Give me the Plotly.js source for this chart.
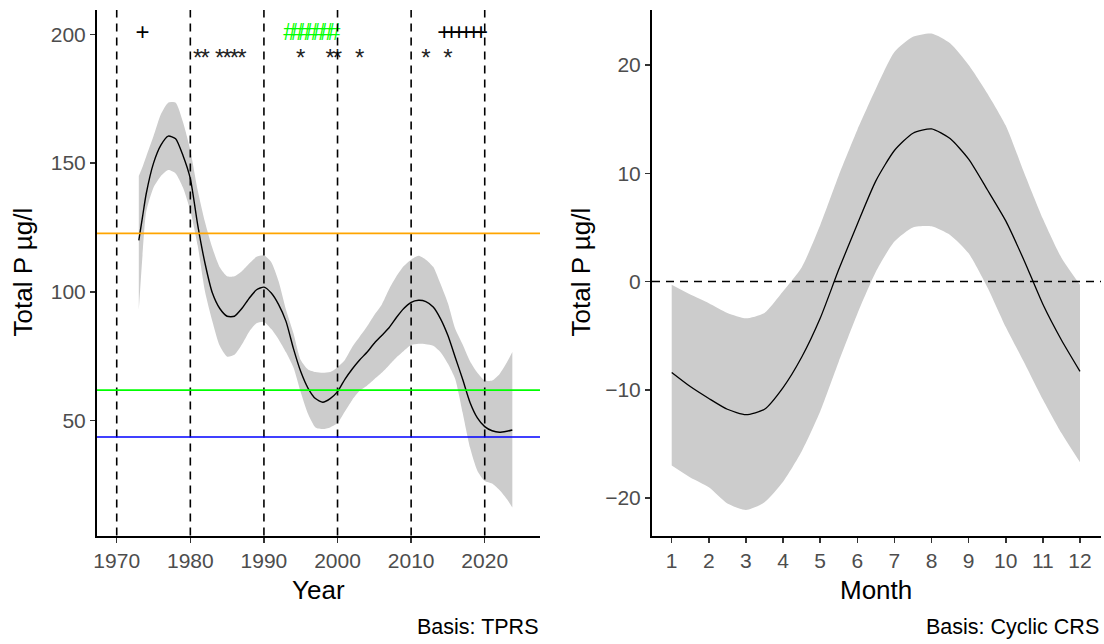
<!DOCTYPE html>
<html>
<head>
<meta charset="utf-8">
<script src="https://cdn.plot.ly/plotly-3.0.1.min.js"></script>
<style>
  html, body { margin: 0; padding: 0; background: #ffffff; }
  #chart { width: 1104px; height: 644px; }
</style>
</head>
<body>
<div id="chart"></div>
<script>
// ---- Long-term trend (Year) ----
const years = [1973, 1973.5, 1974, 1975, 1976, 1977, 1978, 1979, 1980, 1981, 1982, 1983, 1984, 1985, 1986,
  1987, 1988, 1989, 1990, 1991, 1992, 1993, 1994, 1995, 1996, 1997, 1998, 1999, 2000, 2001, 2002,
  2003, 2004, 2005, 2006, 2007, 2008, 2009, 2010, 2011, 2012, 2013, 2014, 2015, 2016, 2017, 2018,
  2019, 2020, 2021, 2022, 2023, 2023.75];
const trendFit = [120, 129, 138, 150, 157, 160.5, 159.5, 153, 144, 126, 111, 99.5, 93.5, 90.5, 90.5,
  93.5, 97.5, 100.8, 101.8, 99.5, 95, 88.5, 78, 69, 62.5, 58.5, 57.1, 58.5, 61.2, 66, 70,
  73.5, 76.5, 80, 83, 86, 90, 93.5, 95.9, 96.7, 96.2, 94.1, 89.5, 83, 74.5, 66, 57,
  51, 47.6, 46, 45.4, 45.8, 46.3];
const trendUpper = [145, 148.5, 152.5, 160.5, 169, 173.5, 173.5, 166, 155, 139.5, 127, 117, 109.5, 106, 106,
  108, 111, 113.6, 114.2, 111.5, 104, 93, 84, 73.5, 69.8, 68.8, 68.5, 68.8, 70.7, 73.5, 78.5,
  82.5, 86.5, 91, 95, 101, 106, 110, 112.5, 114, 112.5, 109.7, 103, 95.5, 85.5, 79.5, 73,
  68.5, 65.5, 65.5, 68, 72.5, 76.6];
const trendLower = [93, 114, 131, 140.5, 145, 147.3, 146, 140.5, 131.5, 118, 100, 88.5, 79, 74.8, 75.5,
  79.5, 84.5, 87.8, 88.3, 85.5, 81.5, 76.5, 70.7, 61, 52.5, 47.3, 46.7, 47.3, 49, 53.5, 58,
  61.5, 63.5, 66, 68.5, 71.5, 74.5, 77, 79.3, 79.8, 79.6, 79, 76.5, 72, 66, 53, 39.5,
  30.5, 26.5, 25.5, 23, 19.5, 16.2];

// reference levels (µg/l)
const levelValues = [122.7, 61.8, 43.6];
const levelColors = ['#FFA500', '#00FF00', '#0000FF'];
// decade guides
const decadeYears = [1970, 1980, 1990, 2000, 2010, 2020];

// significance flags along the top
const plusYears = [1973.5, 2014.5, 2015.5, 2016.5, 2017.5, 2018.5, 2019.5];
const hashYears = [1993.5, 1994.5, 1995.5, 1996.5, 1997.5, 1998.5, 1999.5];
const starYears = [1981, 1982, 1984, 1985, 1986, 1987, 1995, 1999, 2000, 2003, 2012, 2015];
const flagLevel = 200;
const starLevel = 190;

// ---- Seasonal cycle (Month) ----
const months = [1, 1.5, 2, 2.5, 3, 3.5, 4, 4.5, 5, 5.5, 6, 6.5, 7, 7.5, 8, 8.5, 9, 9.5, 10, 10.5, 11, 11.5, 12];
const seasonFit = [-8.4, -9.7, -10.8, -11.8, -12.3, -11.8, -9.8, -7.0, -3.4, 1.1, 5.3, 9.3, 12.1, 13.7, 14.1,
  13.2, 11.3, 8.5, 5.6, 1.9, -2.1, -5.4, -8.3];
const seasonUpper = [-0.3, -1.2, -2.0, -2.9, -3.4, -2.9, -0.9, 1.3, 5.2, 9.8, 14.0, 17.8, 21.2, 22.6, 22.9,
  22.0, 20.0, 17.4, 14.4, 10.0, 5.8, 2.2, -0.3];
const seasonLower = [-17.0, -18.1, -19.0, -20.5, -21.1, -20.4, -18.5, -15.7, -12.0, -7.4, -3.0, 0.9, 3.7, 5.0, 5.1,
  4.3, 2.6, -0.5, -4.2, -7.5, -10.9, -14.0, -16.7];

const monthTicks = [1, 2, 3, 4, 5, 6, 7, 8, 9, 10, 11, 12];

const FONT = 'Liberation Sans, Arial, sans-serif';
const BAND = '#CCCCCC';

function band(x, lo, hi, xa, ya) {
  return [
    { x: x, y: lo, xaxis: xa, yaxis: ya, mode: 'lines', line: { width: 0, shape: 'spline', smoothing: 0.6 },
      hoverinfo: 'skip', showlegend: false },
    { x: x, y: hi, xaxis: xa, yaxis: ya, mode: 'lines', line: { width: 0, shape: 'spline', smoothing: 0.6 },
      fill: 'tonexty', fillcolor: BAND, hoverinfo: 'skip', showlegend: false }
  ];
}

function flags(xs, level, symbol, color, size) {
  return {
    x: xs, y: xs.map(() => level), xaxis: 'x', yaxis: 'y', mode: 'text',
    text: xs.map(() => symbol), textposition: 'middle center',
    textfont: { family: FONT, size: size, color: color }, hoverinfo: 'skip', showlegend: false
  };
}

const traces = [
  ...band(years, trendLower, trendUpper, 'x', 'y'),
  { x: years, y: trendFit, xaxis: 'x', yaxis: 'y', mode: 'lines',
    line: { color: '#000000', width: 1.4, shape: 'spline', smoothing: 0.6 }, showlegend: false },
  flags(plusYears, flagLevel, '+', '#000000', 24),
  flags(hashYears, flagLevel, '#', '#00FF00', 23),
  flags(starYears, starLevel, '*', '#222222', 24),
  ...band(months, seasonLower, seasonUpper, 'x2', 'y2'),
  { x: months, y: seasonFit, xaxis: 'x2', yaxis: 'y2', mode: 'lines',
    line: { color: '#000000', width: 1.3, shape: 'spline', smoothing: 0.6 }, showlegend: false }
];

const shapes = [];
decadeYears.forEach(yr => shapes.push({
  type: 'line', xref: 'x', yref: 'y domain', x0: yr, x1: yr, y0: 0, y1: 1, layer: 'above',
  line: { color: '#000000', width: 1.6, dash: '8px,6px' }
}));
levelValues.forEach((v, i) => shapes.push({
  type: 'line', xref: 'x domain', yref: 'y', x0: 0, x1: 1, y0: v, y1: v, layer: 'above',
  line: { color: levelColors[i], width: 1.6 }
}));
shapes.push({
  type: 'line', xref: 'x2 domain', yref: 'y2', x0: 0, x1: 1, y0: 0, y1: 0, layer: 'above',
  line: { color: '#000000', width: 1.6, dash: '8px,6px' }
});

const axisCommon = {
  showgrid: false, zeroline: false, showline: true, linecolor: '#000000', linewidth: 2,
  ticks: 'outside', ticklen: 5, tickwidth: 1.5, tickcolor: '#333333',
  tickfont: { family: FONT, size: 21, color: '#4D4D4D' }
};
const yDomain = [1 - 535.5 / 644, 1 - 10 / 644];

const layout = {
  width: 1104, height: 644,
  margin: { l: 0, r: 0, t: 0, b: 0 },
  paper_bgcolor: '#ffffff', plot_bgcolor: '#ffffff',
  showlegend: false,
  xaxis: Object.assign({}, axisCommon, {
    domain: [97 / 1104, 540 / 1104], range: [1967.32, 2027.51],
    tickvals: decadeYears, ticktext: decadeYears.map(String), anchor: 'y'
  }),
  yaxis: Object.assign({}, axisCommon, {
    domain: yDomain, range: [5.3, 209.5], tickvals: [50, 100, 150, 200], anchor: 'x'
  }),
  xaxis2: Object.assign({}, axisCommon, {
    domain: [652 / 1104, 1101 / 1104], range: [0.469, 12.566],
    tickvals: monthTicks, ticktext: monthTicks.map(String), anchor: 'y2'
  }),
  yaxis2: Object.assign({}, axisCommon, {
    domain: yDomain, range: [-23.46, 25.08], tickvals: [-20, -10, 0, 10, 20], anchor: 'x2'
  }),
  shapes: shapes,
  annotations: [
    { text: 'Year', xref: 'paper', yref: 'paper', x: 318.5 / 1104, y: 1 - 590 / 644,
      xanchor: 'center', yanchor: 'middle', showarrow: false, font: { family: FONT, size: 26, color: '#000000' } },
    { text: 'Month', xref: 'paper', yref: 'paper', x: 876.5 / 1104, y: 1 - 590 / 644,
      xanchor: 'center', yanchor: 'middle', showarrow: false, font: { family: FONT, size: 26, color: '#000000' } },
    { text: 'Total P µg/l', xref: 'paper', yref: 'paper', x: 22 / 1104, y: 1 - 272.5 / 644, textangle: -90,
      xanchor: 'center', yanchor: 'middle', showarrow: false, font: { family: FONT, size: 26, color: '#000000' } },
    { text: 'Total P µg/l', xref: 'paper', yref: 'paper', x: 580 / 1104, y: 1 - 272.5 / 644, textangle: -90,
      xanchor: 'center', yanchor: 'middle', showarrow: false, font: { family: FONT, size: 26, color: '#000000' } },
    { text: 'Basis: TPRS', xref: 'paper', yref: 'paper', x: 540 / 1104, y: 1 - 627 / 644,
      xanchor: 'right', yanchor: 'middle', showarrow: false, font: { family: FONT, size: 21.5, color: '#000000' } },
    { text: 'Basis: Cyclic CRS', xref: 'paper', yref: 'paper', x: 1101 / 1104, y: 1 - 627 / 644,
      xanchor: 'right', yanchor: 'middle', showarrow: false, font: { family: FONT, size: 21.5, color: '#000000' } }
  ]
};

Plotly.newPlot('chart', traces, layout, { staticPlot: true, displayModeBar: false });
</script>
</body>
</html>
